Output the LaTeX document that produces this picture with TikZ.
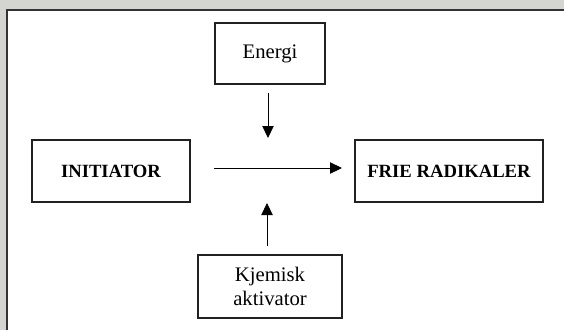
\documentclass[tikz,border=0pt]{standalone}
\usepackage{fontspec}
\setmainfont{Liberation Serif}
\usetikzlibrary{arrows.meta}
\definecolor{bggray}{RGB}{212,213,208}

\tikzset{
  pbox/.style={draw=black!87, line width=1.5pt, align=center, inner sep=0pt},
  pfeil/.style={black, line width=0.6pt, -{Triangle[length=9pt,width=8.5pt]}},
}

\begin{document}
\begin{tikzpicture}[x=0.75pt, y=-0.75pt]
% bakgrunn og ramme
\useasboundingbox (0,0) rectangle (564,330);
\fill[bggray] (0,0) rectangle (564,330);
\fill[white] (7,10) rectangle (564,330);
\draw[black!80, line width=1.5pt] (6.5,330) -- (6.5,9.5) -- (564,9.5);
% boksene
\node[pbox, minimum width=110*0.75pt, minimum height=61*0.75pt, font=\fontsize{15.5}{18}\selectfont]
  (energi) at (270,53.5) {Energi};
\node[pbox, minimum width=158*0.75pt, minimum height=62*0.75pt, font=\fontsize{14}{17}\selectfont\bfseries]
  (initiator) at (111,171) {INITIATOR};
\node[pbox, minimum width=188*0.75pt, minimum height=62*0.75pt, font=\fontsize{14}{17}\selectfont\bfseries]
  (radikaler) at (449,171) {FRIE RADIKALER};
\node[pbox, minimum width=144*0.75pt, minimum height=63*0.75pt, font=\fontsize{15.5}{18}\selectfont]
  (aktivator) at (270,286.5) {Kjemisk\\aktivator};
% piler
\coordinate (ned) at (268,138);
\coordinate (opp) at (267,203);
\draw[pfeil, shorten <=8*0.75pt] (energi.south -| ned) -- (ned);
\draw[pfeil, shorten <=8*0.75pt] (aktivator.north -| opp) -- (opp);
\draw[pfeil, shorten <=23*0.75pt, shorten >=12*0.75pt] (initiator.east |- 0,168) -- (radikaler.west |- 0,168);
\end{tikzpicture}
\end{document}
